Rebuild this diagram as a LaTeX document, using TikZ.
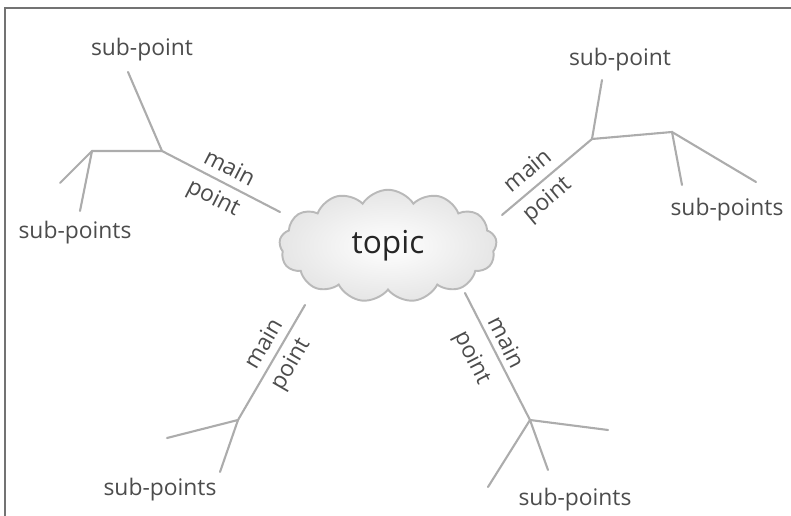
\documentclass[tikz,border=0pt]{standalone}
\usepackage{fontspec}
\setmainfont{Open Sans}
\usepackage{tikz}
\usetikzlibrary{positioning}
\usetikzlibrary{shapes.symbols}
\colorlet{twigcol}{gray!65}
\colorlet{labcol}{black!70}
\tikzset{
  twig/.style={draw=twigcol, line width=1.2pt, line cap=round},
  lab/.style={text=labcol, font=\fontsize{13}{15}\selectfont, inner sep=1pt},
  topicbox/.style={cloud, cloud puffs=13, cloud puff arc=115, aspect=2.1,
    minimum width=4.35cm, minimum height=2.25cm, draw=gray!55, line width=1.1pt,
    inner color=white, outer color=gray!20, text=black!85,
    font=\fontsize{18}{20}\selectfont}
}

\begin{document}
\begin{tikzpicture}[x=0.02cm, y=-0.02cm]

\useasboundingbox (0,0) rectangle (791,516);
% frame
\draw[black!55, line width=1.2pt] (791,8) -- (5,8) -- (5,516);

% ---------- Topic ----------
\node[topicbox] (topic) at (388,246) {topic};

% ---------- Top left ----------
\coordinate (tlroot) at (280,212);
\coordinate (tlhub) at (162,151);
\coordinate (tlfork) at (92,151);
\coordinate (tltop) at (128,72);
\coordinate (tla) at (60,183);
\coordinate (tlb) at (80,211);
\draw[twig] (tlroot) -- (tlhub) -- (tltop);
\draw[twig] (tlhub) -- (tlfork) -- (tla);
\draw[twig] (tlfork) -- (tlb);
\node[lab] (tlsub) at (142,50) {sub-point};
\node[lab] (tlsubs) at (75,233) {sub-points};
\node[lab, rotate=-27] (tlmain) at (230,167) {main};
\node[lab, rotate=-27] (tlpoint) at (213,199) {point};

% ---------- Top right ----------
\coordinate (trroot) at (502,215);
\coordinate (trhub) at (592,139);
\coordinate (trfork) at (672,132);
\coordinate (trtop) at (602,80);
\coordinate (tra) at (682,185);
\coordinate (trb) at (756,182);
\draw[twig] (trroot) -- (trhub) -- (trtop);
\draw[twig] (trhub) -- (trfork) -- (tra);
\draw[twig] (trfork) -- (trb);
\node[lab] (trsub) at (620,60) {sub-point};
\node[lab] (trsubs) at (727,210) {sub-points};
\node[lab, rotate=40] (trmain) at (527,170) {main};
\node[lab, rotate=40] (trpoint) at (548,200) {point};

% ---------- Bottom left ----------
\coordinate (blroot) at (305,305);
\coordinate (blhub) at (238,420);
\coordinate (bla) at (167,438);
\coordinate (blb) at (220,472);
\draw[twig] (blroot) -- (blhub) -- (bla);
\draw[twig] (blhub) -- (blb);
\node[lab, rotate=60] (blmain) at (263,343) {main};
\node[lab, rotate=60] (blpoint) at (292,365) {point};
\node[lab] (blsubs) at (160,490) {sub-points};

% ---------- Bottom right ----------
\coordinate (brroot) at (465,293);
\coordinate (brhub) at (530,420);
\coordinate (bra) at (608,430);
\coordinate (brb) at (548,470);
\coordinate (brc) at (488,487);
\draw[twig] (brroot) -- (brhub) -- (bra);
\draw[twig] (brhub) -- (brb);
\draw[twig] (brhub) -- (brc);
\node[lab, rotate=-63] (brmain) at (507,342) {main};
\node[lab, rotate=-63] (brpoint) at (472,358) {point};
\node[lab] (brsubs) at (575,500) {sub-points};

\end{tikzpicture}
\end{document}
